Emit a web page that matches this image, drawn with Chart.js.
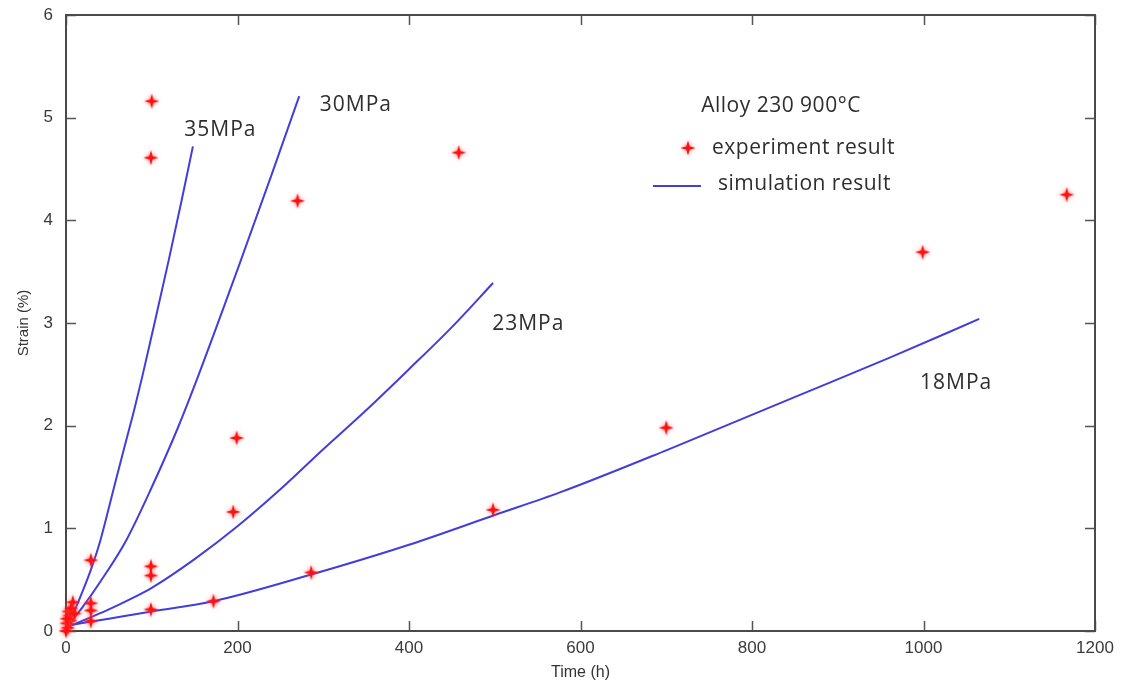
<!DOCTYPE html>
<html>
<head>
<meta charset="utf-8">
<script src="https://cdn.jsdelivr.net/npm/chart.js@4.4.0/dist/chart.umd.min.js"></script>
<style>
  html, body { margin: 0; padding: 0; background: #fff; }
  #wrap { width: 1126px; height: 686px; }
</style>
</head>
<body>
<div id="wrap"><canvas id="creepChart" width="1126" height="686"></canvas></div>
<script>
// ----- Data -----
const xTicks = [0, 200, 400, 600, 800, 1000, 1200];
const yTicks = [0, 1, 2, 3, 4, 5, 6];

// experiment points (time h, strain %)
const expTime   = [100, 99, 458, 270, 999, 1167, 199, 195, 99, 99, 99, 172, 286, 700, 498, 29, 29, 29, 29, 8, 3, 5, 1, 2, 0, 4, 6, 1, 10];
const expStrain = [5.16, 4.61, 4.66, 4.19, 3.69, 4.25, 1.88, 1.16, 0.63, 0.54, 0.21, 0.29, 0.57, 1.98, 1.18, 0.69, 0.27, 0.20, 0.095, 0.28, 0.19, 0.10, 0.075, 0.03, 0.0, 0.15, 0.22, 0.12, 0.17];

// simulation curves
const sim35Time   = [0, 10, 20, 30, 40, 50, 60, 70, 80, 89, 100, 120, 135, 148];
const sim35Strain = [0.04, 0.2, 0.4, 0.62, 0.88, 1.2, 1.53, 1.85, 2.17, 2.48, 2.88, 3.62, 4.2, 4.72];
const sim30Time   = [0, 20, 40, 70, 100, 130, 154, 200, 240, 272];
const sim30Strain = [0.03, 0.24, 0.48, 0.88, 1.4, 1.97, 2.48, 3.52, 4.45, 5.21];
const sim23Time   = [0, 25, 50, 75, 100, 150, 200, 250, 300, 350, 400, 450, 498];
const sim23Strain = [0.03, 0.12, 0.21, 0.31, 0.42, 0.7, 1.02, 1.38, 1.77, 2.15, 2.55, 2.96, 3.39];
const sim18Time   = [0, 50, 100, 172, 286, 400, 500, 576, 700, 856, 960, 1065];
const sim18Strain = [0.05, 0.12, 0.19, 0.29, 0.55, 0.84, 1.13, 1.35, 1.76, 2.3, 2.66, 3.04];

const curveLabels = ["35MPa", "30MPa", "23MPa", "18MPa"];
const titleText = "Alloy 230 900\u00B0C";
const legendTexts = ["experiment result", "simulation result"];

const lineColor = "rgb(66, 62, 218)";
const textColor = "#2e2e2e";

function toPoints(xs, ys) {
  return xs.map((x, i) => ({ x: x, y: ys[i] }));
}

// 4-point red star marker
function makeStar() {
  const c = document.createElement("canvas");
  c.width = 22;
  c.height = 22;
  const g = c.getContext("2d");
  const cx = 11, cy = 11, R = 7.5, r = 2.4;
  g.shadowColor = "rgba(255, 80, 80, 0.75)";
  g.shadowBlur = 4;
  g.beginPath();
  for (let i = 0; i < 8; i++) {
    const a = i * Math.PI / 4 - Math.PI / 2;
    const rr = i % 2 === 0 ? R : r;
    g.lineTo(cx + rr * Math.cos(a), cy + rr * Math.sin(a));
  }
  g.closePath();
  g.fillStyle = "#ff1010";
  g.fill();
  return c;
}
const starImg = makeStar();

// ----- Frame, inward ticks, annotations -----
const framePlugin = {
  id: "frame",
  beforeDatasetsDraw(chart) {
    const { ctx, chartArea: a, scales } = chart;
    const tl = 10;
    ctx.save();
    ctx.strokeStyle = "#555";
    ctx.lineWidth = 1.5;
    ctx.beginPath();
    xTicks.forEach(v => {
      const px = Math.round(scales.x.getPixelForValue(v)) + 0.5;
      ctx.moveTo(px, a.bottom); ctx.lineTo(px, a.bottom - tl);
      ctx.moveTo(px, a.top); ctx.lineTo(px, a.top + tl);
    });
    yTicks.forEach(v => {
      const py = Math.round(scales.y.getPixelForValue(v)) + 0.5;
      ctx.moveTo(a.left, py); ctx.lineTo(a.left + tl, py);
      ctx.moveTo(a.right, py); ctx.lineTo(a.right - tl, py);
    });
    ctx.stroke();
    ctx.lineWidth = 2;
    ctx.strokeStyle = "#4a4a4a";
    ctx.strokeRect(a.left, a.top, a.right - a.left, a.bottom - a.top);
    ctx.restore();
  },
  afterDatasetsDraw(chart) {
    const { ctx, scales } = chart;
    const sx = v => scales.x.getPixelForValue(v);
    const sy = v => scales.y.getPixelForValue(v);
    ctx.save();
    ctx.fillStyle = textColor;
    ctx.font = "21px 'Open Sans'";
    ctx.letterSpacing = "1px";
    ctx.textBaseline = "middle";
    ctx.textAlign = "left";
    ctx.fillText(curveLabels[0], sx(138), sy(4.88));
    ctx.fillText(curveLabels[1], sx(296), sy(5.12));
    ctx.fillText(curveLabels[2], sx(497), sy(2.99));
    ctx.fillText(curveLabels[3], sx(996), sy(2.42));

    // legend box contents
    ctx.font = "21px 'Open Sans'";
    ctx.letterSpacing = "0.5px";
    ctx.textAlign = "center";
    ctx.fillText(titleText, 781, 106);
    ctx.textAlign = "left";
    ctx.drawImage(starImg, 688 - 11, 148 - 11);
    ctx.fillText(legendTexts[0], 712, 148);
    ctx.strokeStyle = lineColor;
    ctx.lineWidth = 2;
    ctx.beginPath();
    ctx.moveTo(653, 186);
    ctx.lineTo(701, 186);
    ctx.stroke();
    ctx.fillText(legendTexts[1], 718, 184);
    ctx.restore();
  }
};

function simSet(xs, ys) {
  return {
    type: "line",
    data: toPoints(xs, ys),
    borderColor: lineColor,
    borderWidth: 2,
    pointRadius: 0,
    fill: false,
    showLine: true,
    cubicInterpolationMode: "monotone",
    order: 1
  };
}

// ----- Chart -----
document.addEventListener("DOMContentLoaded", () => {
  const ctx = document.getElementById("creepChart").getContext("2d");
  new Chart(ctx, {
    type: "scatter",
    data: {
      datasets: [
        {
          label: legendTexts[0],
          data: toPoints(expTime, expStrain),
          pointStyle: starImg,
          pointRadius: 7,
          clip: false,
          order: 0
        },
        simSet(sim35Time, sim35Strain),
        simSet(sim30Time, sim30Strain),
        simSet(sim23Time, sim23Strain),
        simSet(sim18Time, sim18Strain)
      ]
    },
    options: {
      responsive: false,
      animation: false,
      devicePixelRatio: 1,
      layout: { padding: { left: 0, top: 15, right: 31, bottom: 0 } },
      plugins: { legend: { display: false }, tooltip: { enabled: false } },
      scales: {
        x: {
          type: "linear",
          min: 0,
          max: 1200,
          afterBuildTicks: s => { s.ticks = xTicks.map(v => ({ value: v })); },
          afterFit: s => { s.height = 55; },
          grid: { display: false, drawTicks: false },
          border: { display: false },
          ticks: {
            color: "#3a3a3a",
            padding: 7,
            font: { family: "'Liberation Sans', Arial", size: 17 },
            callback: v => String(v)
          },
          title: {
            display: true,
            text: "Time (h)",
            color: "#333",
            padding: { top: 4, bottom: 4 },
            font: { family: "'Liberation Sans', Arial", size: 16 }
          }
        },
        y: {
          type: "linear",
          min: 0,
          max: 6,
          afterBuildTicks: s => { s.ticks = yTicks.map(v => ({ value: v })); },
          afterFit: s => { s.width = 66; },
          grid: { display: false, drawTicks: false },
          border: { display: false },
          ticks: {
            color: "#3a3a3a",
            padding: 13,
            font: { family: "'Liberation Sans', Arial", size: 17, lineHeight: 0.2 },
            callback: v => String(v)
          },
          title: {
            display: true,
            text: "Strain (%)",
            color: "#333",
            padding: { top: 15, bottom: 0 },
            font: { family: "'Liberation Sans', Arial", size: 15 }
          }
        }
      }
    },
    plugins: [framePlugin]
  });
});
</script>
</body>
</html>
